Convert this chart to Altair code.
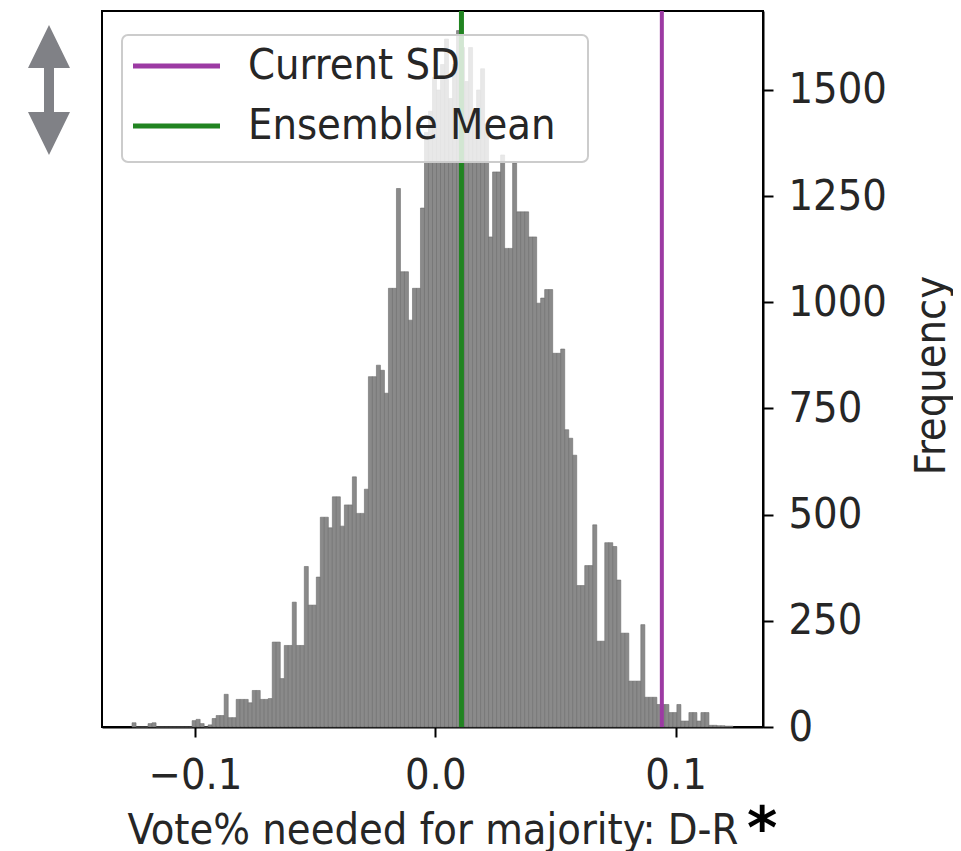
import altair as alt
import pandas as pd
import numpy as np

# ---------------- data ----------------
data_min = -0.1262
data_max = 0.1239
n_bins = 150
counts = [
    10, 0, 0, 0, 8, 10, 0, 0, 0, 0,
    0, 0, 0, 0, 0, 15, 18, 8, 0, 5,
    20, 27, 27, 77, 22, 22, 65, 65, 65, 57,
    86, 86, 65, 65, 67, 200, 200, 114, 192, 192,
    294, 192, 192, 378, 287, 287, 353, 494, 494, 469,
    542, 542, 473, 523, 523, 589, 503, 503, 560, 825,
    825, 852, 840, 786, 1033, 1033, 1268, 1072, 1072, 958,
    1033, 1033, 1222, 1400, 1450, 1530, 1500, 1560, 1620, 1480,
    1560, 1640, 1600, 1520, 1600, 1450, 1500, 1550, 1420, 1154,
    1307, 1307, 1347, 1127, 1127, 1328, 1213, 1213, 1213, 1154,
    1154, 998, 1010, 1030, 1030, 880, 880, 890, 700, 680,
    640, 333, 333, 380, 380, 476, 202, 202, 434, 434,
    425, 346, 221, 221, 108, 108, 108, 241, 70, 70,
    70, 53, 53, 53, 34, 34, 53, 14, 14, 34,
    34, 14, 34, 34, 4, 4, 3, 3, 2, 2,
]
line_values = [0.0943, 0.0109]
legend_labels = ["Current SD", "Ensemble Mean"]
legend_colors = ["#9c3aa3", "#218421"]
x_ticks = [-0.1, 0.0, 0.1]
y_ticks = [0, 250, 500, 750, 1000, 1250, 1500]
x_domain = [-0.1387, 0.1364]
y_domain = [0, 1686]
x_title = "Vote% needed for majority: D-R"
y_title = "Frequency"

FONT = "DejaVu Sans Condensed, DejaVu Sans"
FS = 43
TXT = "#262626"
W, H = 661, 716
LINE_WIDTHS = [4, 5]

edges = np.linspace(data_min, data_max, n_bins + 1)
hist = pd.DataFrame({"start": edges[:-1], "end": edges[1:], "count": counts})
one = alt.Data(values=[{}])

xscale = alt.Scale(domain=x_domain, nice=False, zero=False)
yscale = alt.Scale(domain=y_domain, nice=False, zero=True)

bars = alt.Chart(hist).mark_rect(
    fill="#8a8a8a", stroke="#6c6c6c", strokeWidth=0.6
).encode(
    x=alt.X("start:Q", scale=xscale,
            axis=alt.Axis(values=x_ticks, format=".1f", title=x_title,
                          labelPadding=17, titlePadding=12)),
    x2="end:Q",
    y=alt.Y("count:Q", scale=yscale,
            axis=alt.Axis(orient="right", values=y_ticks, format="d",
                          title=y_title, labelPadding=15, titleAngle=270,
                          titleX=168, titleY=364, titleAlign="center",
                          titleBaseline="middle")),
    y2=alt.datum(0),
)

layers = [bars]
for val, lab, col, lw in zip(line_values, legend_labels, legend_colors, LINE_WIDTHS):
    df = pd.DataFrame({"value": [val], "label": [lab]})
    layers.append(
        alt.Chart(df).mark_rule(strokeWidth=lw, color=col).encode(
            x=alt.X("value:Q", scale=xscale))
    )

legend_box = alt.Chart(one).mark_rect(
    fill="white", fillOpacity=0.8, stroke="#cccccc", strokeWidth=2,
    cornerRadius=6
).encode(x=alt.value(20), x2=alt.value(486), y=alt.value(24), y2=alt.value(151))
layers.append(legend_box)

for i, (lab, col) in enumerate(zip(legend_labels, legend_colors)):
    yy = 55 + 60 * i
    layers.append(
        alt.Chart(one).mark_rule(strokeWidth=5, color=col).encode(
            x=alt.value(31), x2=alt.value(118), y=alt.value(yy))
    )
    layers.append(
        alt.Chart(one).mark_text(
            text=lab, font=FONT, fontSize=FS, color=TXT, align="left",
            baseline="middle").encode(x=alt.value(146), y=alt.value(yy))
    )

arrow_path = ("M0,-1L0.323,-0.34L0.077,-0.34L0.077,0.34L0.323,0.34L0,1"
              "L-0.323,0.34L-0.077,0.34L-0.077,-0.34L-0.323,-0.34Z")
icon = alt.Chart(one).mark_point(
    shape=arrow_path, size=16900, filled=True, color="#808186",
    opacity=1, strokeWidth=0
).encode(x=alt.value(-53), y=alt.value(79))

star = alt.Chart(one).mark_text(
    text="*", font="DejaVu Sans", fontWeight="bold", fontSize=58,
    color="black", align="left", baseline="top"
).encode(x=alt.value(645), y=alt.value(791))

layers += [icon, star]

chart = alt.layer(*layers).properties(
    width=W, height=H,
    autosize=alt.AutoSizeParams(type="none"),
    padding={"left": 94, "top": 3, "right": 190, "bottom": 124},
).configure_view(
    stroke="black", strokeWidth=2
).configure_axis(
    labelFont=FONT, titleFont=FONT, labelFontSize=FS, titleFontSize=FS,
    labelColor=TXT, titleColor=TXT, titleFontWeight="normal",
    domainColor="black", domainWidth=2, tickColor="black", tickWidth=2,
    tickSize=10, grid=False,
)

chart.save("out.html", embed_options={"renderer": "svg", "actions": False})
